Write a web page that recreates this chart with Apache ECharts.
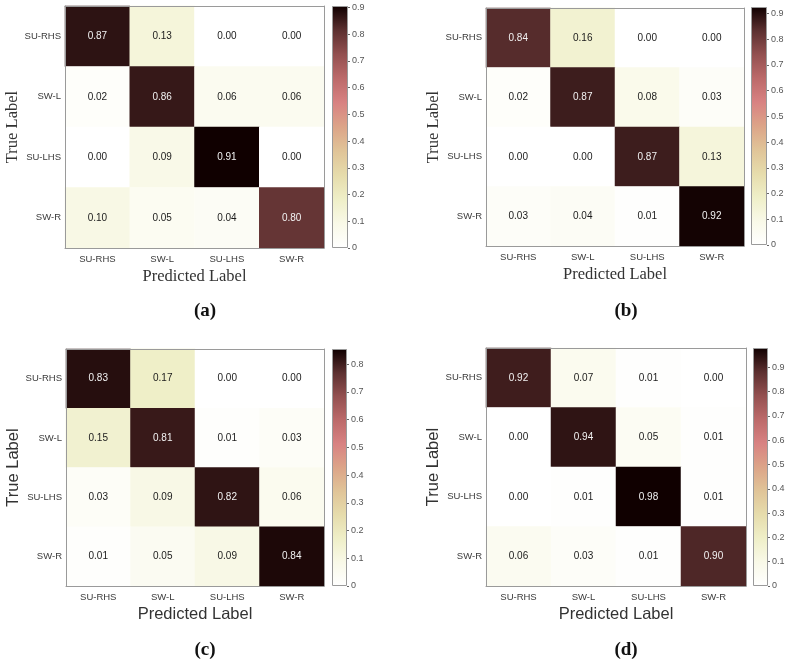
<!DOCTYPE html>
<html><head><meta charset="utf-8">
<script src="https://cdn.jsdelivr.net/npm/echarts@6/dist/echarts.min.js"></script>
<style>html,body{margin:0;padding:0;background:#fff}#c{width:788px;height:665px}</style>
</head><body><div id="c"></div>
<script>
// ---- data ----
const categories = ['SU-RHS', 'SW-L', 'SU-LHS', 'SW-R'];
const matrixA = [[0.87, 0.13, 0.00, 0.00], [0.02, 0.86, 0.06, 0.06], [0.00, 0.09, 0.91, 0.00], [0.10, 0.05, 0.04, 0.80]];
const matrixB = [[0.84, 0.16, 0.00, 0.00], [0.02, 0.87, 0.08, 0.03], [0.00, 0.00, 0.87, 0.13], [0.03, 0.04, 0.01, 0.92]];
const matrixC = [[0.83, 0.17, 0.00, 0.00], [0.15, 0.81, 0.01, 0.03], [0.03, 0.09, 0.82, 0.06], [0.01, 0.05, 0.09, 0.84]];
const matrixD = [[0.92, 0.07, 0.01, 0.00], [0.00, 0.94, 0.05, 0.01], [0.00, 0.01, 0.98, 0.01], [0.06, 0.03, 0.01, 0.90]];
const colorbarMax = [0.905, 0.925, 0.855, 0.98];
const colorbarTicks = [0, 0.1, 0.2, 0.3, 0.4, 0.5, 0.6, 0.7, 0.8, 0.9];
const panelLabels = ['a', 'b', 'c', 'd'];
const xAxisTitle = 'Predicted Label';
const yAxisTitle = 'True Label';

// ---- style ----
const cmap = ['#ffffff', '#f9f9e8', '#efefc8', '#e6dcac', '#e0c498', '#dca488', '#d88282', '#bc6a6a', '#935050', '#5c3030', '#100000'];
const layout = [
  {hm: {left: 65, top: 6, width: 259, height: 242}, cb: {left: 332, top: 6, width: 16, height: 242}, title: [200, 297], serif: true},
  {hm: {left: 486, top: 8, width: 258, height: 238}, cb: {left: 751, top: 7, width: 16, height: 238}, title: [621, 297], serif: true},
  {hm: {left: 66, top: 349, width: 258, height: 237}, cb: {left: 332, top: 349, width: 15, height: 237}, title: [200, 636], serif: false},
  {hm: {left: 486, top: 348, width: 260, height: 238}, cb: {left: 753, top: 348, width: 15, height: 238}, title: [621, 636], serif: false}
];
const mats = [matrixA, matrixB, matrixC, matrixD];
const SANS = 'Liberation Sans, Arial, sans-serif';
const SERIF = 'Liberation Serif, Times New Roman, serif';
const tickColor = '#3a3a3a';
const frame = '#9a9a9a';

const option = {animation: false, backgroundColor: '#fff', grid: [], xAxis: [], yAxis: [], series: [], visualMap: [], title: []};

mats.forEach((m, i) => {
  const L = layout[i];
  const M = colorbarMax[i];
  const nameFont = L.serif ? SERIF : SANS;
  // heatmap grid
  option.grid.push(Object.assign({show: false}, L.hm));
  // colorbar grid
  option.grid.push(Object.assign({show: false}, L.cb));
  const gH = i * 2, gC = i * 2 + 1;
  // heatmap axes: bottom x, left y, plus top/right frame axes
  option.xAxis.push({
    type: 'category', data: categories, gridIndex: gH, position: 'bottom', z: 5,
    axisLine: {show: true, lineStyle: {color: frame, width: 1}}, axisTick: {show: false},
    axisLabel: {fontFamily: SANS, fontSize: 9.5, color: tickColor, margin: 6},
    name: xAxisTitle, nameLocation: 'middle', nameGap: 20,
    nameTextStyle: {fontFamily: nameFont, fontSize: 16.5, color: '#333'}
  });
  option.yAxis.push({
    type: 'category', data: categories, gridIndex: gH, inverse: true, position: 'left', z: 5,
    axisLine: {show: true, lineStyle: {color: frame, width: 1}}, axisTick: {show: false},
    axisLabel: {fontFamily: SANS, fontSize: 9.5, color: tickColor, margin: 4},
    name: yAxisTitle, nameLocation: 'middle', nameGap: 43,
    nameTextStyle: {fontFamily: nameFont, fontSize: 16.5, color: '#333'}
  });
  const xTop = option.xAxis.length;
  option.xAxis.push({
    type: 'category', data: categories, gridIndex: gH, position: 'top', z: 5,
    axisLine: {show: true, lineStyle: {color: frame, width: 1}}, axisTick: {show: false}, axisLabel: {show: false}
  });
  const yRight = option.yAxis.length;
  option.yAxis.push({
    type: 'category', data: categories, gridIndex: gH, inverse: true, position: 'right', z: 5,
    axisLine: {show: true, lineStyle: {color: frame, width: 1}}, axisTick: {show: false}, axisLabel: {show: false}
  });
  // colorbar axes
  const xCb = option.xAxis.length;
  option.xAxis.push({type: 'category', data: [''], gridIndex: gC, show: false});
  const yCb = option.yAxis.length;
  option.yAxis.push({
    type: 'value', gridIndex: gC, min: 0, max: M, position: 'right',
    axisLine: {show: false}, splitLine: {show: false},
    axisTick: {show: true, inside: false, length: 2, lineStyle: {color: '#666'}, customValues: colorbarTicks},
    axisLabel: {fontFamily: SANS, fontSize: 9, color: '#555', margin: 4, customValues: colorbarTicks,
      formatter: v => (v === 0 ? '0' : v.toFixed(1))}
  });
  const xH = option.xAxis.findIndex((a, k) => a.gridIndex === gH && a.position === 'bottom');
  const yH = option.yAxis.findIndex((a, k) => a.gridIndex === gH && a.position === 'left');
  const data = [];
  m.forEach((row, r) => row.forEach((v, c) => data.push([c, r, v])));
  const sIdx = option.series.length;
  option.series.push({
    type: 'heatmap', xAxisIndex: xH, yAxisIndex: yH, data: data,
    label: {
      show: true, fontFamily: SANS, fontSize: 10,
      formatter: p => (p.value[2] > 0.5 * M ? '{w|' : '{k|') + p.value[2].toFixed(2) + '}',
      rich: {w: {color: '#f2f2f2', fontFamily: SANS, fontSize: 10}, k: {color: '#1a1a1a', fontFamily: SANS, fontSize: 10}}
    },
    itemStyle: {borderWidth: 0},
    emphasis: {disabled: true}
  });
  option.visualMap.push({type: 'continuous', show: false, seriesIndex: sIdx, min: 0, max: M, inRange: {color: cmap}});
  // colorbar bar
  const stops = cmap.map((c, k) => ({offset: k / (cmap.length - 1), color: c}));
  option.series.push({
    type: 'bar', xAxisIndex: xCb, yAxisIndex: yCb, data: [M], barWidth: '100%', silent: true,
    itemStyle: {color: new echarts.graphic.LinearGradient(0, 1, 0, 0, stops), borderColor: frame, borderWidth: 1}
  });
  option.title.push({
    text: '{p|(}{b|' + panelLabels[i] + '}{p|)}', left: L.title[0], top: L.title[1], textAlign: 'center',
    textStyle: {rich: {p: {fontFamily: SERIF, fontSize: 19, color: '#111'}, b: {fontFamily: SERIF, fontSize: 19, fontWeight: 'bold', color: '#111'}}}
  });
});

const chart = echarts.init(document.getElementById('c'), null, {renderer: 'canvas'});
chart.setOption(option);
</script></body></html>
